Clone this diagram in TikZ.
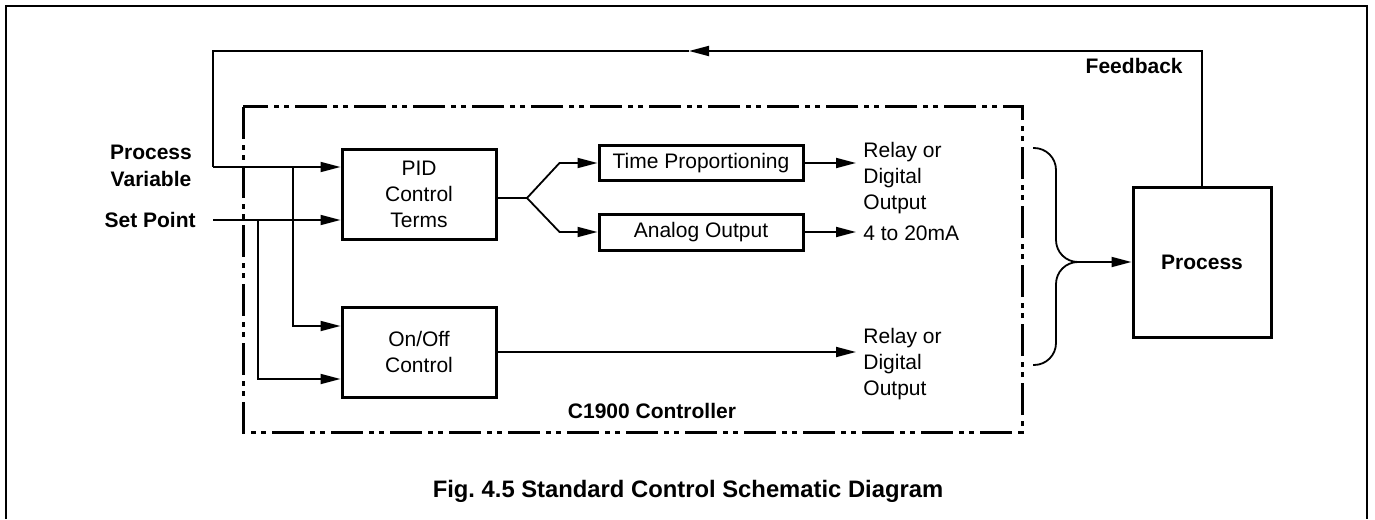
\documentclass[tikz,border=0pt]{standalone}
\usepackage{fontspec}
\setmainfont{Liberation Sans}
\usetikzlibrary{arrows.meta,positioning}

\tikzset{
  blk/.style={draw, line width=1.5pt, align=center, inner sep=0pt,
    font=\fontsize{10.5}{13}\selectfont},
  lbl/.style={align=center, inner sep=0pt, font=\fontsize{10.5}{13.5}\selectfont\bfseries},
  outtxt/.style={align=left, anchor=west, inner xsep=3.5pt, inner ysep=0pt,
    font=\fontsize{10.5}{12.8}\selectfont},
  wire/.style={line width=0.9pt},
  arr/.style={wire, -{Triangle[length=10pt,width=5pt]}},
  dashdotdot/.style={line width=1.5pt,
    dash pattern=on 16pt off 3pt on 2.5pt off 2.5pt on 2.5pt off 3pt},
}

\begin{document}
\begin{tikzpicture}[x=0.5pt,y=-0.5pt]
\useasboundingbox (0,0) rectangle (1375,519);

% outer frame, open at the bottom
\draw[line width=0.6pt] (6,519) -- (6,6) -- (1367,6) -- (1367,519);

% controller boundary
\coordinate (cbnw) at (243,107);
\coordinate (cbse) at (1022,432);
\draw[dashdotdot] (cbnw) rectangle (cbse);
\node[lbl] (ctrl) at (652,411) {C1900 Controller};

% blocks
\node[blk, minimum width=77pt, minimum height=45pt] (pid) at (419,194) {PID\\Control\\Terms};
\node[blk, minimum width=77pt, minimum height=45pt] (onoff) at (419,352) {On/Off\\Control};
\node[blk, minimum width=102pt, minimum height=17.5pt] (tprop) at (701,163) {Time Proportioning};
\node[blk, minimum width=102pt, minimum height=18pt] (aout) at (701,232) {Analog Output};
\node[blk, minimum width=69pt, minimum height=75pt, font=\fontsize{10.5}{13}\selectfont\bfseries] (proc) at (1202,262) {Process};

% inputs
\node[lbl] (pvlbl) at (151,166) {Process\\Variable};
\node[lbl, anchor=east] (splbl) at (196,220) {Set Point};
\node[lbl, anchor=east] (fblbl) at (1183,66) {Feedback};

% outputs
\node[outtxt] (out1) at (856,178) {Relay or\\Digital\\Output};
\node[outtxt] (out2) at (856,233) {4 to 20mA};
\node[outtxt] (out3) at (856,364) {Relay or\\Digital\\Output};

% feedback loop
\coordinate (fb) at (689,51);
\coordinate (pvin) at (213,167);
\draw[arr] (proc.north) |- (fb);
\draw[wire] (fb) -| (pvin);
\draw[arr] (pvin) -- (pid.west |- pvin);

% set point
\coordinate (spin) at (213,220);
\draw[arr] (spin) -- (pid.west |- spin);

% taps to on/off
\coordinate (pvtap) at (293,167);
\coordinate (sptap) at (258,220);
\draw[arr] (pvtap) |- ([yshift=13pt]onoff.west);
\draw[arr] (sptap) |- ([yshift=-13.5pt]onoff.west);

% pid split
\coordinate (split) at (527,198);
\draw[wire] (pid.east |- split) -- (split);
\draw[arr] (split) -- ([xshift=-19pt]tprop.west) -- (tprop.west);
\draw[arr] (split) -- ([xshift=-19pt]aout.west) -- (aout.west);

\draw[arr] (tprop.east) -- (out1.west |- tprop.east);
\draw[arr] (aout.east) -- (out2.west |- aout.east);
\draw[arr] (onoff.east) -- (out3.west |- onoff.east);

% brace into process
\coordinate (brtop) at (1033,148);
\coordinate (brbot) at (1033,365);
\coordinate (brmid) at (1056,262);
\coordinate (tip) at (1077,262);
\draw[wire, rounded corners=11pt] (brtop) -| (brmid) -- (tip);
\draw[wire, rounded corners=11pt] (brbot) -| (brmid) -- (tip);
\draw[arr] (tip) -- (proc.west);

% caption
\node[font=\fontsize{11.9}{14}\selectfont\bfseries] (cap) at (688,491)
  {Fig.\ 4.5 Standard Control Schematic Diagram};
\end{tikzpicture}
\end{document}
